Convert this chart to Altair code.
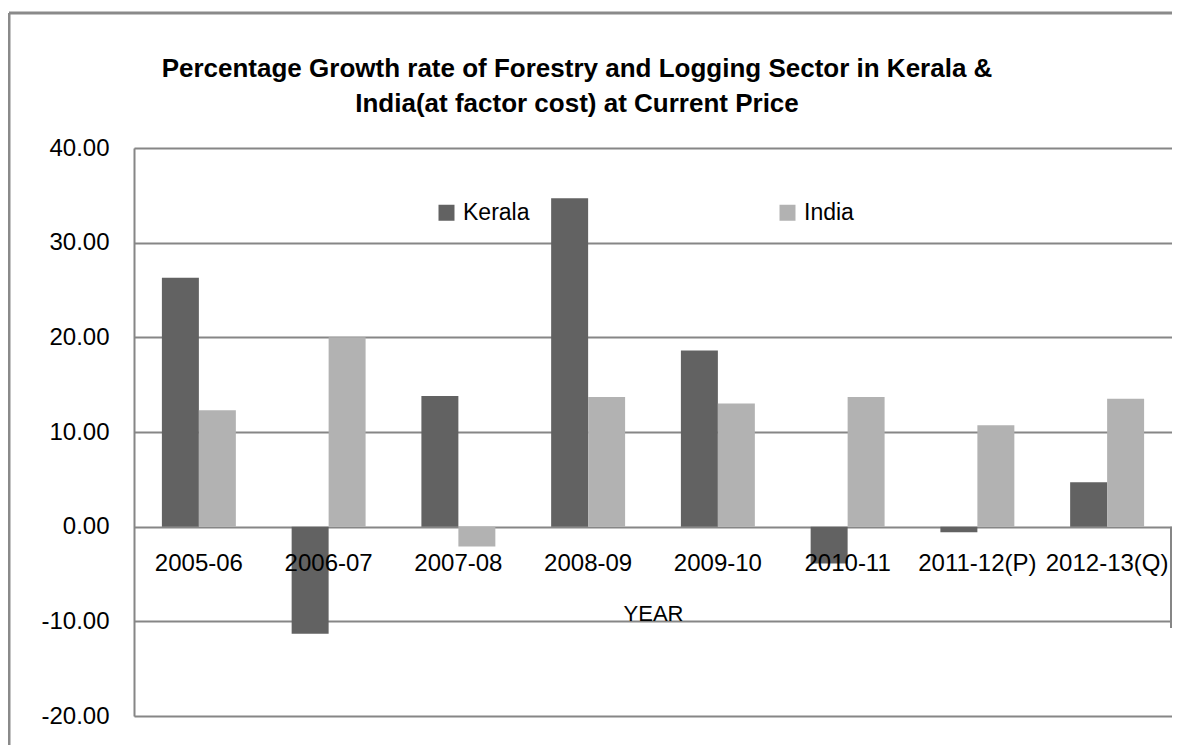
import altair as alt
import pandas as pd

years = ["2005-06", "2006-07", "2007-08", "2008-09", "2009-10", "2010-11", "2011-12(P)", "2012-13(Q)"]
kerala = [26.3, -11.3, 13.8, 34.7, 18.6, -3.9, -0.6, 4.7]
india = [12.3, 20.0, -2.1, 13.7, 13.0, 13.7, 10.7, 13.5]
series = ["Kerala", "India"]
colors = ["#626262", "#B2B2B2"]
y_ticks = [-20, -10, 0, 10, 20, 30, 40]
title_lines = ["Percentage Growth rate of Forestry and Logging  Sector in Kerala &",
               "India(at factor cost) at Current Price"]

rows = []
for i, y in enumerate(years):
    rows.append({"year": y, "series": "Kerala", "value": kerala[i]})
    rows.append({"year": y, "series": "India", "value": india[i]})
df = pd.DataFrame(rows)

W, H = 1038, 568
GRID = "#868686"
FONT = "Liberation Sans"

yscale = alt.Scale(domain=[-20, 40], nice=False, zero=False)

bars = alt.Chart(df).mark_bar().encode(
    x=alt.X("year:N", sort=years,
            scale=alt.Scale(paddingInner=0.43, paddingOuter=0.215),
            axis=alt.Axis(orient="bottom", offset=-(H / 3.0), domain=False, ticks=False,
                          labelAngle=0, labelFontSize=24, labelFont=FONT, labelColor="black",
                          labelPadding=25, title="YEAR", titleFont=FONT, titleFontSize=22,
                          titleFontWeight="normal", titleColor="black", titlePadding=28,
                          grid=False, labelOverlap=False, zindex=1)),
    xOffset=alt.XOffset("series:N", sort=series, scale=alt.Scale(paddingInner=0, paddingOuter=0)),
    y=alt.Y("value:Q", scale=yscale,
            axis=alt.Axis(values=y_ticks, labelExpr="replace(format(datum.value, '.2f'), '\u2212', '-')",
                          labelFontSize=24, labelFont=FONT, labelColor="black", labelPadding=25,
                          ticks=False, domain=True, domainColor=GRID, domainWidth=2,
                          grid=True, gridColor=GRID, gridWidth=2, title=None)),
    color=alt.Color("series:N", sort=series,
                    scale=alt.Scale(domain=series, range=colors),
                    legend=alt.Legend(orient="none", legendX=301, legendY=53, direction="horizontal",
                                      columns=2, columnPadding=246, symbolType="square",
                                      symbolSize=256, symbolStrokeWidth=0, symbolOpacity=1,
                                      labelFontSize=23, labelFont=FONT, labelColor="black",
                                      labelOffset=5, title=None, padding=0)),
)

deco = pd.DataFrame({"k": [0]})
frame_left = alt.Chart(deco).mark_rule(color="#8a8a8a", strokeWidth=3).encode(
    x=alt.value(-125), y=alt.value(-135), y2=alt.value(H + 60))
frame_top = alt.Chart(deco).mark_rule(color="#8a8a8a", strokeWidth=3).encode(
    x=alt.value(-125), x2=alt.value(W + 60), y=alt.value(-135))
right_edge = alt.Chart(deco).mark_rule(color=GRID, strokeWidth=2).encode(
    x=alt.value(W - 1), y=alt.datum(0), y2=alt.datum(-10.7))

title_df = pd.DataFrame({"t": ["\n".join(title_lines)]})
title = alt.Chart(title_df).mark_text(
    font=FONT, fontSize=26, fontWeight="bold", color="black",
    align="center", baseline="alphabetic", lineBreak="\n", lineHeight=35,
).encode(text="t:N", x=alt.value(443), y=alt.value(-71))

chart = alt.layer(bars, right_edge, frame_left, frame_top, title).properties(
    width=W, height=H,
    padding={"left": 126, "top": 140, "right": 0, "bottom": 29},
    autosize=alt.AutoSizeParams(type="none"),
).configure_view(strokeWidth=0).configure(background="white")

chart.save("out.html", embed_options={"renderer": "svg", "actions": False})
